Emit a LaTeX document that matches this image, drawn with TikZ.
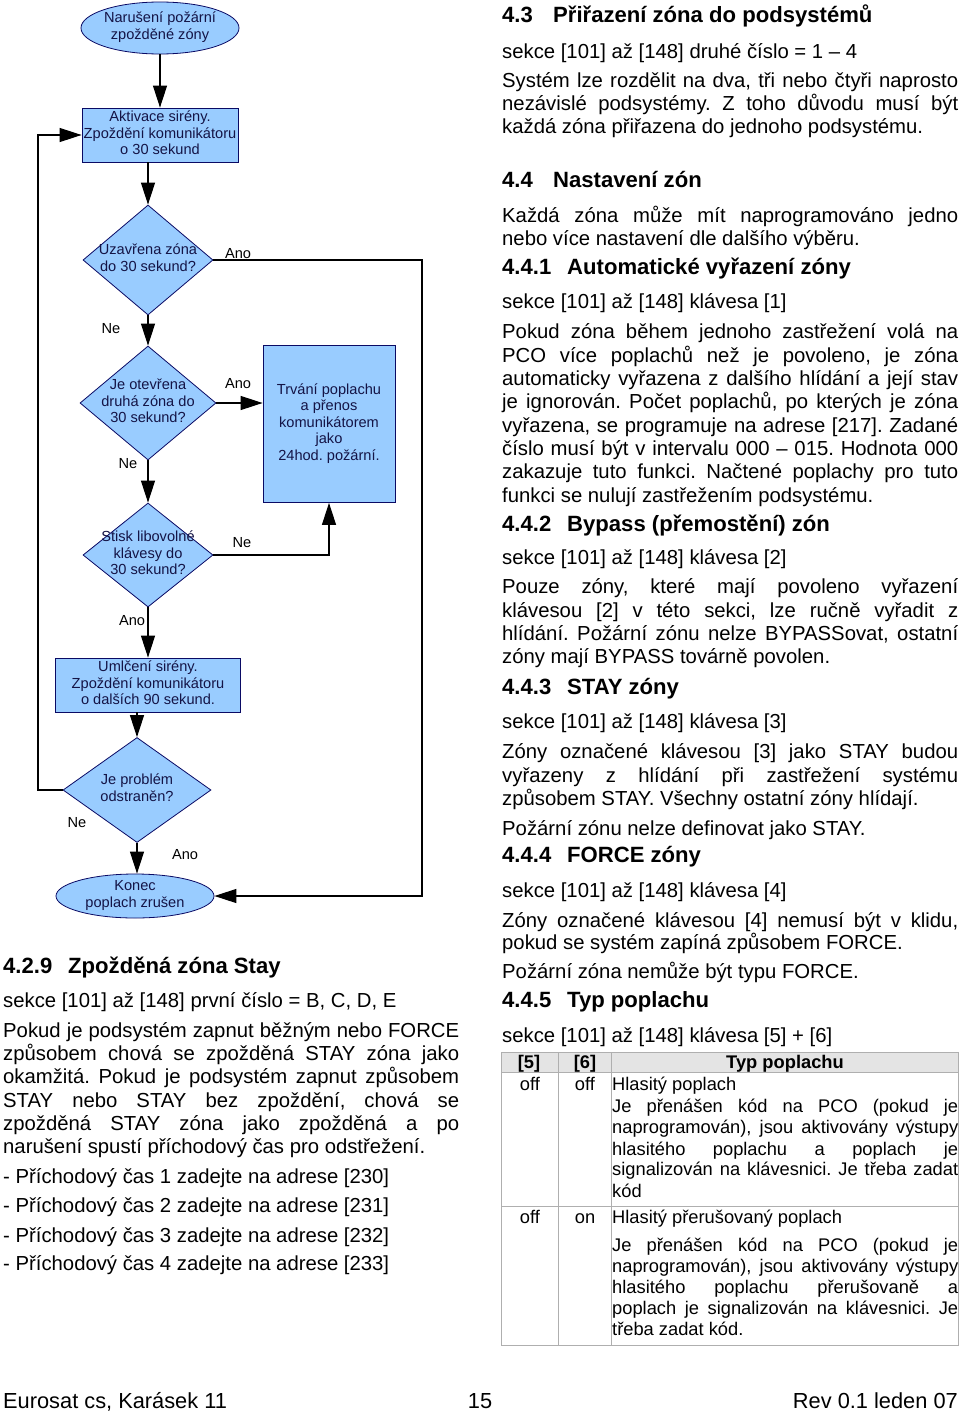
\documentclass[tikz,border=0pt]{standalone}
\usepackage{fontspec}
\setmainfont{Liberation Sans}
\usetikzlibrary{shapes.geometric,arrows.meta}
\frenchspacing
\definecolor{fbl}{RGB}{153,204,255}
\definecolor{navy}{RGB}{10,10,100}
\definecolor{ftxt}{RGB}{20,20,70}
\definecolor{tgrid}{RGB}{175,175,175}
\definecolor{thead}{RGB}{228,228,228}
\newcommand\bodyf{\fontsize{20.3}{24}\selectfont}
\newcommand\hdf{\fontsize{22.1}{26}\selectfont\bfseries}
\newcommand\tbf{\fontsize{18.3}{21}\selectfont}
\newcommand\fcf{\fontsize{14.6}{16.5}\selectfont}
\newcommand\ftf{\fontsize{21.8}{25}\selectfont}
\newcommand\ztext[1]{\smash{\makebox[0pt]{\raisebox{-3.5pt}{\begin{tabular}{@{}c@{}}#1\end{tabular}}}}}
\newcommand\LL[4]{\node[txt] (#1) at (#2,#3) {#4};}
\newcommand\JL[4]{\node[txt] (#1) at (#2,#3) {\makebox[456pt][s]{#4}};}
\newcommand\HD[6]{\node[txt,font=\hdf] (#1) at (#2,#3) {\makebox[#4pt][l]{#5}#6};}
\newcommand\TJ[3]{\node[txt,font=\tbf] (#1) at (612,#2) {\makebox[346pt][s]{#3}};}
\newcommand\TL[3]{\node[txt,font=\tbf] (#1) at (612,#2) {#3};}
\newcommand\TC[4]{\node[inner sep=0pt,anchor=base,font=\tbf] (#1) at (#2,#3) {#4};}
\tikzset{
  fshape/.style={draw=navy, fill=fbl, line width=0.8pt, inner sep=0pt, text=ftxt, font=\fcf},
  conn/.style={line width=1.2pt, -{Triangle[length=22pt,width=14pt]}},
  lab/.style={font=\fcf, inner sep=0pt},
  txt/.style={inner sep=0pt, anchor=base west, font=\bodyf},
}
\begin{document}
\begin{tikzpicture}[x=1pt,y=-1pt]
\fill[white] (0,0) rectangle (960,1416);
\useasboundingbox (0,0) rectangle (960,1416);

% ---------- flowchart ----------
\node[fshape, ellipse, minimum width=158pt, minimum height=52pt] (e1) at (160,28) {\ztext{Narušení požární\\zpožděné zóny}};
\node[fshape, rectangle, minimum width=156pt, minimum height=54pt] (box1) at (160,135) {\ztext{Aktivace sirény.\\Zpoždění komunikátoru\\o 30 sekund}};
\node[fshape, diamond, minimum width=130pt, minimum height=110pt] (d1) at (148,260) {\ztext{Uzavřena zóna\\do 30 sekund?}};
\node[fshape, diamond, minimum width=136pt, minimum height=114pt] (d2) at (148,403) {\ztext{Je otevřena\\druhá zóna do\\30 sekund?}};
\node[fshape, rectangle, minimum width=132pt, minimum height=157pt] (box2) at (329,424) {\ztext{Trvání poplachu\\a přenos\\komunikátorem\\jako\\24hod. požární.}};
\node[fshape, diamond, minimum width=130pt, minimum height=104pt] (d3) at (148,555) {\ztext{Stisk libovolné\\klávesy do\\30 sekund?}};
\node[fshape, rectangle, minimum width=185pt, minimum height=54pt] (box3) at (148,685) {\ztext{Umlčení sirény.\\Zpoždění komunikátoru\\o dalších 90 sekund.}};
\node[fshape, diamond, minimum width=148pt, minimum height=105pt] (d4) at (137,790) {\ztext{Je problém\\odstraněn?}};
\node[fshape, ellipse, minimum width=158pt, minimum height=44pt] (konec) at (135,896) {\ztext{Konec\\poplach zrušen}};
\coordinate (rc) at (422,0);
\coordinate (lc) at (38,0);

\draw[conn] (e1.south) -- (box1.north);
\draw[conn] (box1.south -| d1.north) -- (d1.north);
\draw[conn] (d1.south) -- (d2.north);
\draw[conn] (d2.east) -- (d2.east -| box2.west);
\draw[conn] (d2.south) -- (d3.north);
\draw[conn] (d3.east) -| (box2.south);
\draw[conn] (d3.south) -- (box3.north);
\draw[conn] (box3.south -| d4.north) -- (d4.north);
\draw[conn] (d4.south) -- (d4.south |- konec.north);
\draw[conn] (d1.east) -- (d1.east -| rc) -- (rc |- konec.east) -- (konec.east);
\draw[conn] (d4.west) -- (d4.west -| lc) -- (lc |- box1.west) -- (box1.west);

\node[lab] (l1) at (238,254) {Ano};
\node[lab] (l2) at (111,329) {Ne};
\node[lab] (l3) at (238,384) {Ano};
\node[lab] (l4) at (128,464) {Ne};
\node[lab] (l5) at (242,543) {Ne};
\node[lab] (l6) at (132,621) {Ano};
\node[lab] (l7) at (77,823) {Ne};
\node[lab] (l8) at (185,855) {Ano};

% ---------- right column ----------
\HD{h43}{502}{23}{51}{4.3}{Přiřazení zóna do podsystémů}
\LL{r1}{502}{58}{sekce [101] až [148] druhé číslo = 1 – 4}
\JL{r2}{502}{87}{Systém lze rozdělit na dva, tři nebo čtyři naprosto}
\JL{r3}{502}{110}{nezávislé podsystémy. Z toho důvodu musí být}
\LL{r4}{502}{133}{každá zóna přiřazena do jednoho podsystému.}
\HD{h44}{502}{187}{51}{4.4}{Nastavení zón}
\JL{r5}{502}{222}{Každá zóna může mít naprogramováno jedno}
\LL{r6}{502}{245}{nebo více nastavení dle dalšího výběru.}
\HD{h441}{502}{274}{65}{4.4.1}{Automatické vyřazení zóny}
\LL{r7}{502}{308}{sekce [101] až [148] klávesa [1]}
\JL{r8}{502}{338}{Pokud zóna během jednoho zastřežení volá na}
\JL{r9}{502}{362}{PCO více poplachů než je povoleno, je zóna}
\JL{r10}{502}{385}{automaticky vyřazena z dalšího hlídání a její stav}
\JL{r11}{502}{408}{je ignorován. Počet poplachů, po kterých je zóna}
\JL{r12}{502}{432}{vyřazena, se programuje na adrese [217]. Zadané}
\JL{r13}{502}{455}{číslo musí být v intervalu 000 – 015. Hodnota 000}
\JL{r14}{502}{478}{zakazuje tuto funkci. Načtené poplachy pro tuto}
\LL{r15}{502}{502}{funkci se nulují zastřežením podsystému.}
\HD{h442}{502}{531}{65}{4.4.2}{Bypass (přemostění) zón}
\LL{r16}{502}{564}{sekce [101] až [148] klávesa [2]}
\JL{r17}{502}{593}{Pouze zóny, které mají povoleno vyřazení}
\JL{r18}{502}{617}{klávesou [2] v této sekci, lze ručně vyřadit z}
\JL{r19}{502}{640}{hlídání. Požární zónu nelze BYPASSovat, ostatní}
\LL{r20}{502}{663}{zóny mají BYPASS továrně povolen.}
\HD{h443}{502}{694}{65}{4.4.3}{STAY zóny}
\LL{r21}{502}{728}{sekce [101] až [148] klávesa [3]}
\JL{r22}{502}{758}{Zóny označené klávesou [3] jako STAY budou}
\JL{r23}{502}{782}{vyřazeny z hlídání při zastřežení systému}
\LL{r24}{502}{805}{způsobem STAY. Všechny ostatní zóny hlídají.}
\LL{r25}{502}{835}{Požární zónu nelze definovat jako STAY.}
\HD{h444}{502}{862}{65}{4.4.4}{FORCE zóny}
\LL{r26}{502}{897}{sekce [101] až [148] klávesa [4]}
\JL{r27}{502}{927}{Zóny označené klávesou [4] nemusí být v klidu,}
\LL{r28}{502}{949}{pokud se systém zapíná způsobem FORCE.}
\LL{r29}{502}{978}{Požární zóna nemůže být typu FORCE.}
\HD{h445}{502}{1007}{65}{4.4.5}{Typ poplachu}
\LL{r30}{502}{1042}{sekce [101] až [148] klávesa [5] + [6]}

% ---------- table ----------
\draw[tgrid, fill=thead] (501,1052) rectangle (958,1072);
\draw[tgrid] (501,1052) rectangle (958,1345);
\draw[tgrid] (501,1206) -- (958,1206);
\draw[tgrid] (558,1052) -- (558,1345);
\draw[tgrid] (611,1052) -- (611,1345);
\TC{th5}{529}{1068}{\bfseries [5]}
\TC{th6}{585}{1068}{\bfseries [6]}
\TC{thT}{785}{1068}{\bfseries Typ poplachu}
\TC{c11}{530}{1090}{off}
\TC{c12}{585}{1090}{off}
\TL{t1}{1090}{Hlasitý poplach}
\TJ{t2}{1112}{Je přenášen kód na PCO (pokud je}
\TJ{t3}{1133}{naprogramován), jsou aktivovány výstupy}
\TJ{t4}{1155}{hlasitého poplachu a poplach je}
\TJ{t5}{1175}{signalizován na klávesnici. Je třeba zadat}
\TL{t6}{1197}{kód}
\TC{c21}{530}{1223}{off}
\TC{c22}{585}{1223}{on}
\TL{t7}{1223}{Hlasitý přerušovaný poplach}
\TJ{t8}{1251}{Je přenášen kód na PCO (pokud je}
\TJ{t9}{1272}{naprogramován), jsou aktivovány výstupy}
\TJ{t10}{1293}{hlasitého poplachu přerušovaně a}
\TJ{t11}{1314}{poplach je signalizován na klávesnici. Je}
\TL{t12}{1335}{třeba zadat kód.}

% ---------- left column ----------
\HD{h429}{3}{973}{65}{4.2.9}{Zpožděná zóna Stay}
\LL{s1}{3}{1007}{sekce [101] až [148] první číslo = B, C, D, E}
\JL{s2}{3}{1037}{Pokud je podsystém zapnut běžným nebo FORCE}
\JL{s3}{3}{1060}{způsobem chová se zpožděná STAY zóna jako}
\JL{s4}{3}{1083}{okamžitá. Pokud je podsystém zapnut způsobem}
\JL{s5}{3}{1107}{STAY nebo STAY bez zpoždění, chová se}
\JL{s6}{3}{1130}{zpožděná STAY zóna jako zpožděná a po}
\LL{s7}{3}{1153}{narušení spustí příchodový čas pro odstřežení.}
\LL{s8}{3}{1183}{- Příchodový čas 1 zadejte na adrese [230]}
\LL{s9}{3}{1212}{- Příchodový čas 2 zadejte na adrese [231]}
\LL{s10}{3}{1242}{- Příchodový čas 3 zadejte na adrese [232]}
\LL{s11}{3}{1270}{- Příchodový čas 4 zadejte na adrese [233]}

% ---------- footer ----------
\node[txt,font=\ftf] (f1) at (3,1408) {Eurosat cs, Karásek 11};
\node[inner sep=0pt,anchor=base,font=\ftf] (f2) at (480,1408) {15};
\node[inner sep=0pt,anchor=base east,font=\ftf] (f3) at (958,1408) {Rev 0.1 leden 07};
\end{tikzpicture}
\end{document}
